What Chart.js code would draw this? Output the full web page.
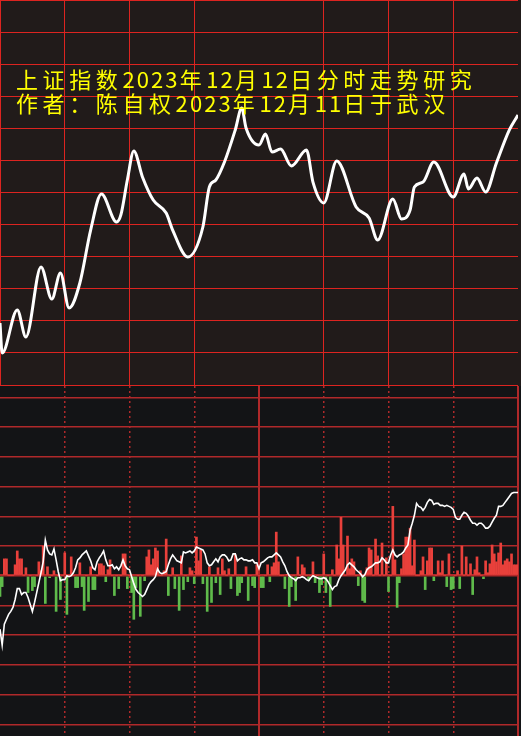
<!DOCTYPE html>
<html>
<head>
<meta charset="utf-8">
<title>上证指数2023年12月12日分时走势研究</title>
<script src="https://cdn.jsdelivr.net/npm/chart.js@4.4.1/dist/chart.umd.min.js"></script>
<style>
	html, body { margin: 0; padding: 0; background: #131416; }
	#wrap { position: relative; width: 521px; height: 736px; overflow: hidden; background: #131416; }
	#priceChart { position: absolute; left: 0; top: 0; background: #211b1a; }
	#flowChart { position: absolute; left: 0; top: 386px; background: #131416; }
	.note { position: absolute; left: 16px; font-family: "Noto Sans CJK SC", sans-serif; font-size: 22px; line-height: 24px;
		color: #ffff00; letter-spacing: 4.6px; white-space: nowrap; }
	.note .num { letter-spacing: 2.1px; }
</style>
</head>
<body>
<div id="wrap">
	<canvas id="priceChart" width="521" height="386"></canvas>
	<canvas id="flowChart" width="521" height="350"></canvas>
	<div class="note" style="top:66px;">上证指数<span class="num">2023</span>年<span class="num">12</span>月<span class="num">12</span>日分时走势研究</div>
	<div class="note" style="top:90px;">作者：陈自权<span class="num">2023</span>年<span class="num">12</span>月<span class="num">11</span>日于武汉</div>
</div>
<script>
// 分时走势 (上图) : 分钟 / 指数点位
var topMinutes = [0, 1, 8, 12, 19, 24, 28, 32, 37, 42, 47, 54, 56, 59, 62, 66, 71, 77, 80, 87,
	94, 97, 100, 104, 109, 112, 114, 120, 123, 126, 130, 135, 142, 145, 150, 156, 165, 171, 175, 182,
	186, 190, 192, 196, 201, 210, 215, 217, 221, 225, 230, 236, 240];
var topValues = [2993.86, 2991.99, 2994.68, 2992.99, 2997.36, 2995.36, 2996.98, 2994.80, 2996.36, 2999.66,
	3001.91, 3000.16, 3000.60, 3002.78, 3004.59, 3002.97, 3001.53, 3000.72, 2999.66, 2997.98,
	2999.85, 3002.34, 3002.78, 3003.90, 3005.90, 3007.27, 3006.02, 3004.96, 3005.65, 3004.52,
	3004.71, 3003.65, 3004.65, 3002.65, 3001.35, 3003.96, 3001.10, 3000.41, 2999.04, 3001.59,
	3000.35, 3000.91, 3002.34, 3002.65, 3003.90, 3001.72, 3003.15, 3002.22, 3002.90, 3002.03,
	3003.84, 3005.90, 3006.83];

// 下图 : 每分钟红绿柱 (0 ~ 240 分钟)
var barValues = [
	-21, -11, 17, 17, 0, 0, 0, 11, 25, 17,
	17, 0, 8, -17, 0, -15, -11, 0, 14, 5,
	30, -28, 9, -2, 0, 5, -36, 0, -24, 0,
	23, -39, 0, 19, 0, -12, -12, 13, -11, -35,
	0, -26, 9, -14, -14, 0, 12, 12, 10, -6,
	6, 16, 0, -20, 0, -13, 0, 22, 22, -13,
	0, -17, -44, -12, 0, -41, 0, -5, 19, 26,
	11, 17, 28, 25, 0, 0, 5, 37, -20, 0,
	8, -13, 0, -35, 20, -14, 0, -6, 8, 5,
	-8, 39, 15, 26, -8, 0, -36, 9, -27, 0,
	-7, 8, -19, 17, 5, 0, 7, -13, 0, 21,
	-20, -17, -7, 0, 9, -25, 0, -10, -12, 11,
	0, -12, -12, 0, 11, -6, 9, 13, 44, 14,
	0, 0, -13, 1, -31, -11, 0, -25, 19, 0,
	11, 8, 0, -5, 0, 14, -7, 0, -17, -9,
	22, -17, 0, -31, 6, 0, 31, 17, 59, 31,
	0, 40, 7, 17, 14, 0, -10, 5, -25, -27,
	8, 28, 26, 0, 37, 20, 0, 33, 0, 18,
	-16, 0, 70, 16, -32, -7, 7, 22, 39, 39,
	48, 10, 36, 0, 0, 5, 19, -14, 15, 28,
	28, -5, 0, 15, 3, 15, 0, -11, 22, -14,
	-13, 0, 5, -13, 30, 0, 19, 0, 12, -19,
	6, 19, 3, 0, -3, 15, 3, 12, 31, 22,
	14, 23, 33, 11, 15, 17, 14, 22, 11, 11, 11];

// 下图 : 白色指标线
var lineValues = [
	-54, -70, -49, -44, -39, -36, -32, -24, -13, -13,
	-19, -17, -17, -22, -29, -36, -27, -17, -7, 3,
	14, 36, 26, 22, 21, 27, 16, 4, -5, -4,
	-4, 0, -1, 0, 3, 8, 16, 18, 21, 23,
	25, 20, 15, 8, 6, 14, 18, 21, 25, 16,
	10, 10, 11, 7, 9, 6, 10, 16, 10, 7,
	6, -1, -8, -14, -17, -19, -21, -19, -14, -9,
	-6, -4, -1, 7, 3, 2, 3, 4, 11, 17,
	21, 18, 15, 14, 13, 24, 23, 24, 25, 23,
	25, 29, 28, 27, 26, 22, 13, 10, 11, 14,
	17, 14, 19, 21, 21, 19, 15, 16, 22, 22,
	15, 17, 18, 16, 16, 15, 15, 16, 13, 13,
	7, 13, 14, 16, 18, 19, 19, 21, 23, 21,
	19, 14, 10, 4, 0, -2, -3, -5, -2, -2,
	-1, -2, -4, -5, -2, 0, -1, -2, -3, -3,
	-2, -3, -6, -10, -14, -11, -10, -4, 0, 3,
	6, 11, 13, 11, 9, 6, 4, 2, -1, 1,
	6, 8, 9, 11, 13, 13, 14, 18, 16, 13,
	13, 21, 26, 21, 19, 21, 22, 24, 28, 31,
	46, 53, 61, 73, 70, 69, 66, 69, 74, 77,
	76, 72, 73, 73, 71, 71, 70, 71, 70, 69,
	67, 59, 57, 57, 61, 64, 63, 60, 56, 53,
	53, 51, 53, 53, 51, 48, 48, 50, 54, 58,
	61, 70, 70, 71, 74, 77, 80, 83, 84, 84, 84];

var RED_GRID = '#dc2420';
var DARK_GRID = '#b0292a';
var UP = '#e8403b';
var DOWN = '#5fbb4b';
var NONE = 'rgba(0,0,0,0)';

Chart.defaults.animation = false;
Chart.defaults.plugins.legend.display = false;
Chart.defaults.plugins.tooltip.enabled = false;

var topData = [];
for (var i = 0; i < topMinutes.length; i++) {
	topData.push({x: topMinutes[i], y: topValues[i]});
}

new Chart(document.getElementById('priceChart').getContext('2d'), {
	type: 'line',
	data: {
		datasets: [{
			data: topData,
			borderColor: '#ffffff',
			borderWidth: 3,
			pointRadius: 0,
			cubicInterpolationMode: 'monotone',
			fill: false
		}]
	},
	options: {
		responsive: false,
		devicePixelRatio: 1,
		layout: {padding: {left: 0, top: 0, right: 3, bottom: 1}, autoPadding: false},
		scales: {
			x: {
				type: 'linear', min: 0, max: 240, offset: false,
				ticks: {display: false, stepSize: 30},
				grid: {
					drawTicks: false, tickLength: 0, lineWidth: 1,
					// 上图中间竖线和右边框不画
					color: function (ctx) { return ctx.tick && (ctx.tick.value === 120 || ctx.tick.value === 240) ? NONE : RED_GRID; }
				},
				border: {display: false}
			},
			y: {
				min: 2990, max: 3014,
				ticks: {display: false, stepSize: 2},
				grid: {color: RED_GRID, lineWidth: 1, drawTicks: false, tickLength: 0},
				border: {display: false}
			}
		}
	}
});

var barData = [], lineData = [], barColors = [];
for (var m = 0; m < barValues.length; m++) {
	barData.push({x: m, y: barValues[m]});
	barColors.push(barValues[m] >= 0 ? UP : DOWN);
}
for (var k = 0; k < lineValues.length; k++) {
	lineData.push({x: k, y: lineValues[k]});
}

new Chart(document.getElementById('flowChart').getContext('2d'), {
	type: 'line',
	data: {
		datasets: [{
			type: 'line',
			order: 0,
			data: lineData,
			borderColor: '#ffffff',
			borderWidth: 1.6,
			pointRadius: 0,
			tension: 0
		}, {
			type: 'bar',
			order: 1,
			data: barData,
			backgroundColor: barColors,
			barThickness: 2,
			borderWidth: 0
		}]
	},
	options: {
		responsive: false,
		devicePixelRatio: 1,
		layout: {padding: {left: 0, top: 0, right: 3, bottom: 0}, autoPadding: false},
		scales: {
			x: {
				type: 'linear', min: 0, max: 240, offset: false,
				ticks: {display: false, stepSize: 30},
				grid: {
					offset: false, drawTicks: false, tickLength: 0,
					color: function (ctx) { return ctx.tick && ctx.tick.value === 0 ? NONE : DARK_GRID; },
					lineWidth: function (ctx) { return ctx.tick && ctx.tick.value % 120 === 0 ? 2 : 1.5; }
				},
				border: {
					display: false,
					dash: function (ctx) { return ctx.tick && ctx.tick.value % 120 === 0 ? [] : [2, 3]; }
				}
			},
			y: {
				min: -161.8, max: 191.5,
				ticks: {display: false, stepSize: 30, includeBounds: false},
				grid: {
					color: DARK_GRID, drawTicks: false, tickLength: 0,
					lineWidth: function (ctx) { return ctx.tick && ctx.tick.value === 0 ? 2.5 : 1.5; }
				},
				border: {display: false}
			}
		}
	}
});
</script>
</body>
</html>
